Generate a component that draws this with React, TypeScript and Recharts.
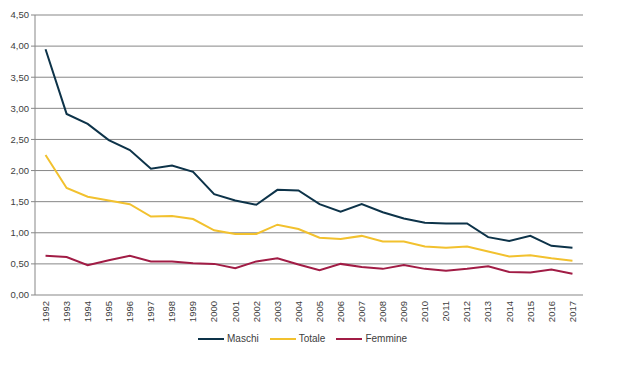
import React from 'react';
import { LineChart, Line, XAxis, YAxis, CartesianGrid, Legend } from 'recharts';

const YEARS = [
  '1992', '1993', '1994', '1995', '1996', '1997', '1998', '1999', '2000', '2001',
  '2002', '2003', '2004', '2005', '2006', '2007', '2008', '2009', '2010', '2011',
  '2012', '2013', '2014', '2015', '2016', '2017',
];

const MASCHI = [
  3.95, 2.91, 2.75, 2.49, 2.33, 2.03, 2.08, 1.98, 1.62, 1.52,
  1.45, 1.69, 1.68, 1.46, 1.34, 1.46, 1.33, 1.23, 1.16, 1.15,
  1.15, 0.93, 0.87, 0.95, 0.79, 0.76,
];

const TOTALE = [
  2.25, 1.72, 1.58, 1.52, 1.46, 1.26, 1.27, 1.22, 1.04, 0.98,
  0.98, 1.13, 1.06, 0.92, 0.90, 0.95, 0.86, 0.86, 0.78, 0.76,
  0.78, 0.70, 0.62, 0.64, 0.59, 0.55,
];

const FEMMINE = [
  0.63, 0.61, 0.48, 0.56, 0.63, 0.54, 0.54, 0.51, 0.50, 0.43,
  0.54, 0.59, 0.49, 0.40, 0.50, 0.45, 0.42, 0.48, 0.42, 0.39,
  0.42, 0.46, 0.37, 0.36, 0.41, 0.34,
];

const Y_TICKS = [0, 0.5, 1, 1.5, 2, 2.5, 3, 3.5, 4, 4.5];

const SERIES = [
  { key: 'maschi', name: 'Maschi', color: '#0d3349' },
  { key: 'totale', name: 'Totale', color: '#f2c12e' },
  { key: 'femmine', name: 'Femmine', color: '#a11c45' },
];

const GRID = '#878787';
const TEXT = '#404040';
const FONT = 'Arial, "Liberation Sans", sans-serif';

const data = YEARS.map((year, i) => ({
  i,
  year,
  maschi: MASCHI[i],
  totale: TOTALE[i],
  femmine: FEMMINE[i],
}));

// labels sit at category centres, tick marks at category boundaries
const labelTicks = YEARS.map((_, i) => i);
const boundaryTicks = [...YEARS.map((_, i) => i - 0.5), YEARS.length - 0.5];

const formatY = (v: number) => v.toFixed(2).replace('.', ',');

const YearTick = (props: any) => {
  const { x, y, payload } = props;
  return (
    <text
      x={x}
      y={y}
      transform={`rotate(-90, ${x}, ${y})`}
      textAnchor="end"
      dy="0.35em"
      fill={TEXT}
      fontSize={9.5}
      fontFamily={FONT}
    >
      {YEARS[payload.value]}
    </text>
  );
};

const LegendContent = () => (
  <div style={{ display: 'flex', alignItems: 'center', fontFamily: FONT, fontSize: 10, color: TEXT }}>
    {SERIES.map((s) => (
      <div key={s.key} style={{ display: 'flex', alignItems: 'center', marginRight: 11 }}>
        <div style={{ width: 26, height: 2, background: s.color, marginRight: 3 }} />
        <span>{s.name}</span>
      </div>
    ))}
  </div>
);

export default function App() {
  return (
    <div style={{ position: 'absolute', left: 0, top: 0, background: '#fff' }}>
      <LineChart width={620} height={381} data={data} margin={{ top: 15, right: 37, left: 0, bottom: 46 }}>
        <CartesianGrid vertical={false} stroke={GRID} strokeWidth={1} />
        <XAxis
          xAxisId="bounds"
          type="number"
          dataKey="i"
          domain={[-0.5, YEARS.length - 0.5]}
          ticks={boundaryTicks}
          tick={false}
          height={0}
          tickSize={4}
          axisLine={{ stroke: GRID }}
          tickLine={{ stroke: GRID }}
          allowDataOverflow
        />
        <XAxis
          xAxisId="labels"
          type="number"
          dataKey="i"
          domain={[-0.5, YEARS.length - 0.5]}
          ticks={labelTicks}
          interval={0}
          tick={<YearTick />}
          height={40}
          tickSize={0}
          tickMargin={6}
          axisLine={false}
          tickLine={false}
          allowDataOverflow
        />
        <YAxis
          domain={[0, 4.5]}
          ticks={Y_TICKS}
          width={35}
          tickSize={4}
          tickMargin={2}
          tickFormatter={formatY}
          tick={{ fill: TEXT, fontSize: 9.5, fontFamily: FONT }}
          axisLine={{ stroke: GRID }}
          tickLine={{ stroke: GRID }}
          interval={0}
        />
        <Legend
          verticalAlign="middle"
          align="center"
          layout="horizontal"
          content={<LegendContent />}
          wrapperStyle={{ top: 333, left: 198, width: 300 }}
        />
        {SERIES.map((s) => (
          <Line
            key={s.key}
            xAxisId="labels"
            type="linear"
            dataKey={s.key}
            name={s.name}
            stroke={s.color}
            strokeWidth={2}
            dot={false}
            isAnimationActive={false}
          />
        ))}
      </LineChart>
    </div>
  );
}
